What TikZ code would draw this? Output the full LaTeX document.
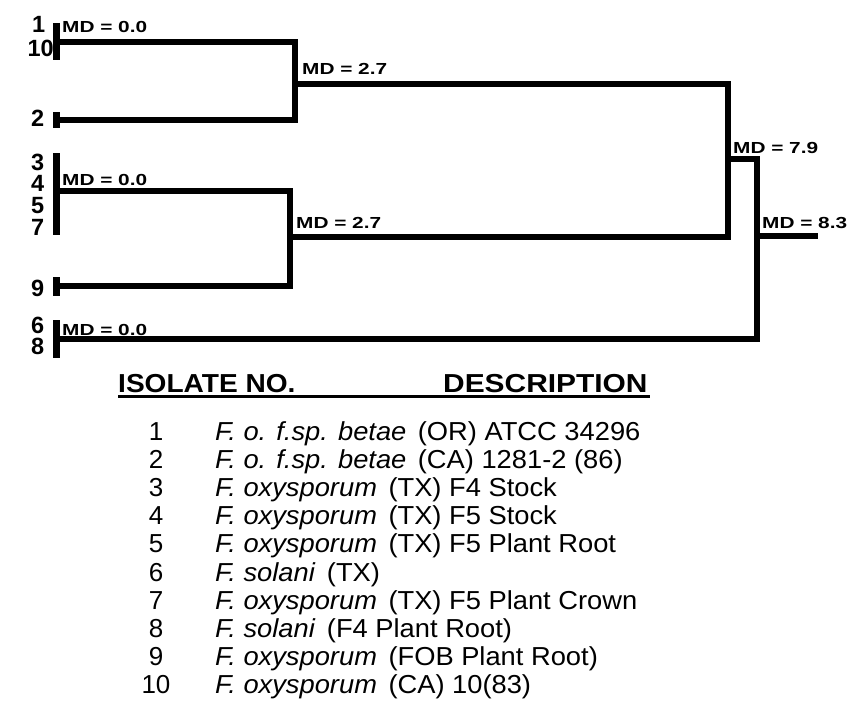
\documentclass[tikz,border=0pt]{standalone}
\usepackage{fontspec}
\setmainfont{Liberation Sans}
\tikzset{
  branch/.style={line width=6pt, line join=miter},
  leafbar/.style={line width=7pt},
  mdlab/.style={anchor=base west, inner sep=0pt, font=\fontsize{16}{16}\selectfont\bfseries},
  leafnum/.style={anchor=base west, inner sep=0pt, font=\fontsize{23.5}{23.5}\selectfont\bfseries},
  hdr/.style={anchor=base west, inner sep=0pt, font=\fontsize{26}{26}\selectfont\bfseries},
  rownum/.style={anchor=base, inner sep=0pt, font=\fontsize{26}{26}\selectfont},
  rowtxt/.style={anchor=base west, inner sep=0pt, font=\fontsize{26}{26}\selectfont},
}
\newcommand{\mdtxt}[1]{\scalebox{1.3}[1]{MD = #1}}
\newcommand{\gapsp}{\hspace{0.42em}}
\newcommand{\rowbox}[1]{\scalebox{1.05}[1]{#1}}
\begin{document}
\begin{tikzpicture}[x=1pt,y=-1pt]
\useasboundingbox (0,0) rectangle (852,701);
% leaf bars
\coordinate (A1) at (56.5,23); \coordinate (A2) at (56.5,60);
\coordinate (B1) at (56.5,112); \coordinate (B2) at (56.5,128);
\coordinate (C1) at (56.5,153); \coordinate (C2) at (56.5,235);
\coordinate (D1) at (56.5,277); \coordinate (D2) at (56.5,296);
\coordinate (E1) at (56.5,320); \coordinate (E2) at (56.5,358);
\foreach \s in {A,B,C,D,E} \draw[leafbar] (\s1) -- (\s2);
% branch start points
\coordinate (a) at (56.5,42);
\coordinate (b) at (56.5,120);
\coordinate (c) at (56.5,191);
\coordinate (d) at (56.5,286);
\coordinate (e) at (56.5,339);
% internal junctions
\coordinate (n1) at (295,84);
\coordinate (n2) at (290,237);
\coordinate (n3) at (728,159);
\coordinate (n4) at (757,236);
\coordinate (root) at (818,236);
\draw[branch] (a) -| (n1) |- (b);
\draw[branch] (c) -| (n2) |- (d);
\draw[branch] (n1) -| (n3) |- (n2);
\draw[branch] (n3) -| (n4) |- (e);
\draw[branch] (n4) -- (root);
% MD labels
\node[mdlab] (m1) at (62,33) {\mdtxt{0.0}};
\node[mdlab] (m2) at (62,185) {\mdtxt{0.0}};
\node[mdlab] (m3) at (62,335) {\mdtxt{0.0}};
\node[mdlab] (m4) at (302,75) {\mdtxt{2.7}};
\node[mdlab] (m5) at (296,228) {\mdtxt{2.7}};
\node[mdlab] (m6) at (733,153) {\mdtxt{7.9}};
\node[mdlab] (m7) at (762,228) {\mdtxt{8.3}};
% leaf numbers
\node[leafnum] (l1) at (32,33) {1};
\node[leafnum, anchor=base east] (l10) at (54,57) {10};
\node[leafnum] (l2) at (31,126) {2};
\node[leafnum] (l3) at (31,170) {3};
\node[leafnum] (l4) at (31,191.5) {4};
\node[leafnum] (l5) at (31,213) {5};
\node[leafnum] (l7) at (31,235) {7};
\node[leafnum] (l9) at (31,296) {9};
\node[leafnum] (l6) at (31,333.5) {6};
\node[leafnum] (l8) at (31,354) {8};
% table header
\node[hdr] (h1) at (118,392) {\scalebox{1.08}[1]{ISOLATE NO.}};
\node[hdr] (h2) at (443,392) {\scalebox{1.15}[1]{DESCRIPTION}};
\coordinate (u1) at (118,396.5);
\coordinate (u2) at (650,396.5);
\draw[line width=2.5pt] (u1) -- (u2);
% rows
\foreach \n/\t [count=\i from 0] in {
  1/{\textit{F. o. f.sp. betae}\gapsp(OR) ATCC 34296},
  2/{\textit{F. o. f.sp. betae}\gapsp(CA) 1281-2 (86)},
  3/{\textit{F. oxysporum}\gapsp(TX) F4 Stock},
  4/{\textit{F. oxysporum}\gapsp(TX) F5 Stock},
  5/{\textit{F. oxysporum}\gapsp(TX) F5 Plant Root},
  6/{\textit{F. solani}\gapsp(TX)},
  7/{\textit{F. oxysporum}\gapsp(TX) F5 Plant Crown},
  8/{\textit{F. solani}\gapsp(F4 Plant Root)},
  9/{\textit{F. oxysporum}\gapsp(FOB Plant Root)},
  10/{\textit{F. oxysporum}\gapsp(CA) 10(83)}} {
  \node[rownum] (r\n) at (156,440+\i*28.2) {\n};
  \node[rowtxt] (t\n) at (215,440+\i*28.2) {\rowbox{\t}};
}
\end{tikzpicture}
\end{document}
